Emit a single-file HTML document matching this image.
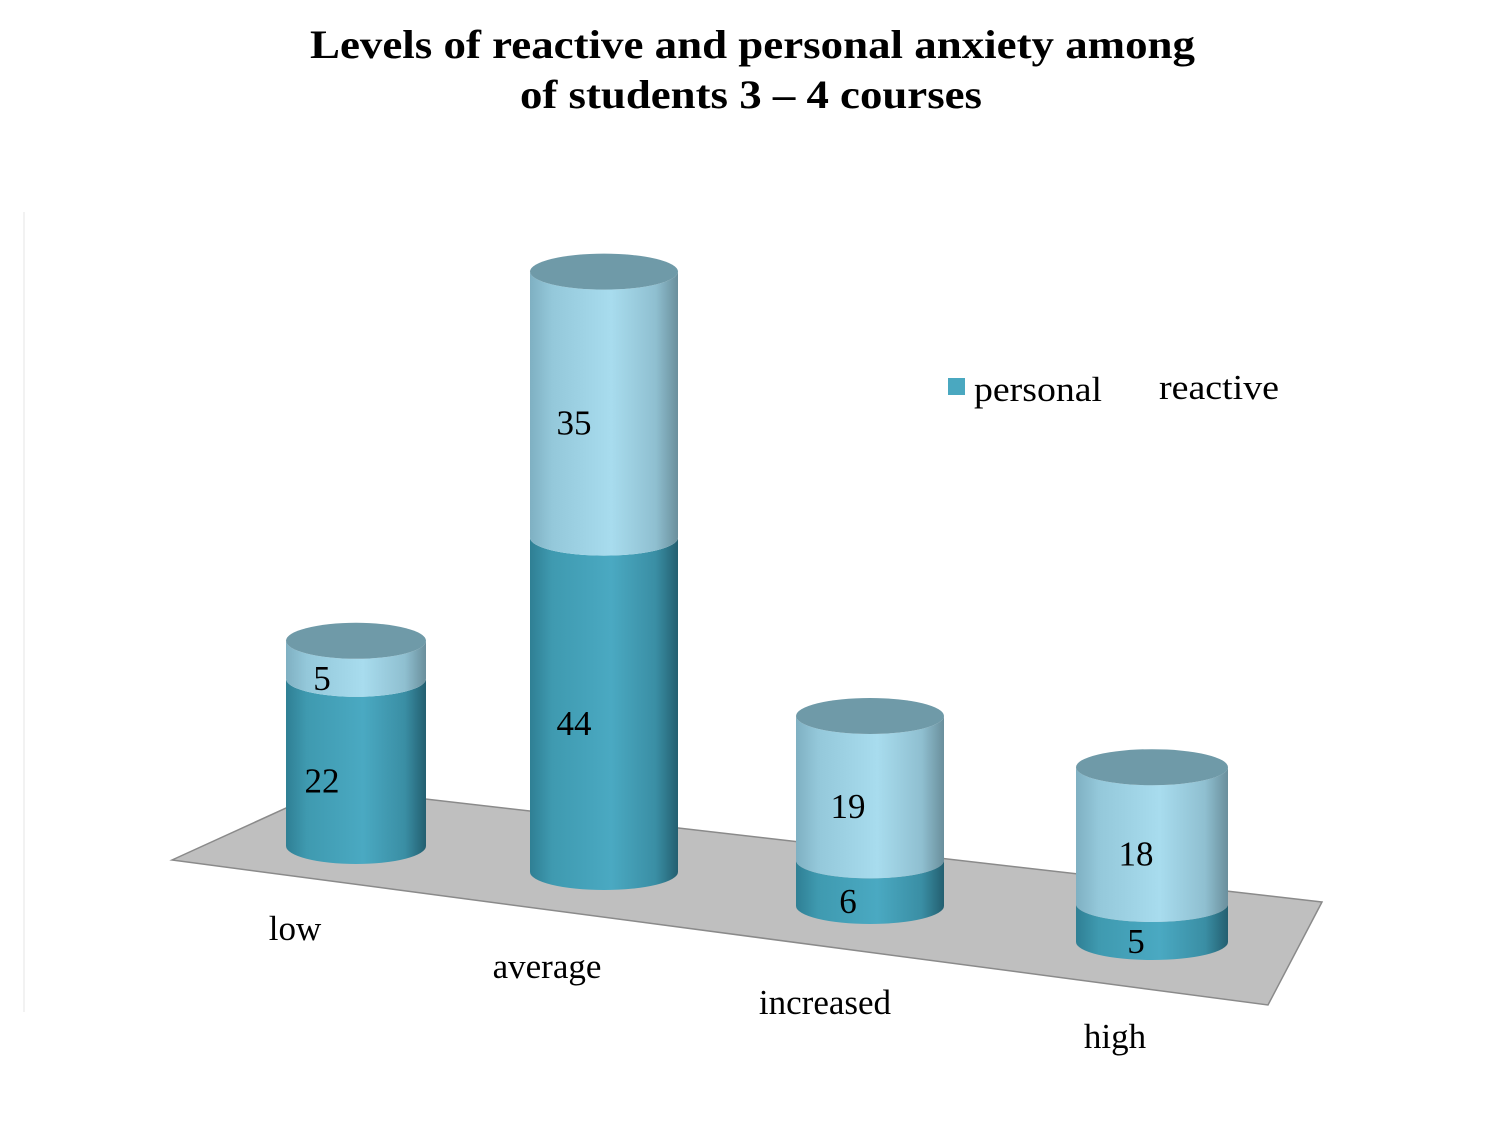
<!DOCTYPE html>
<html><head><meta charset="utf-8"><style>
body{margin:0;background:#fff;}
svg{display:block;font-family:"Liberation Serif",serif;}
</style></head><body>
<svg id="chart" width="1500" height="1125" viewBox="0 0 1500 1125">
<defs>
<linearGradient id="gP" x1="0" x2="1" y1="0" y2="0">
<stop offset="0" stop-color="#2f7f94"/><stop offset="0.15" stop-color="#3f9ab0"/><stop offset="0.55" stop-color="#4aa9c2"/><stop offset="0.85" stop-color="#3a8ea4"/><stop offset="1" stop-color="#235f70"/></linearGradient>
<linearGradient id="gR" x1="0" x2="1" y1="0" y2="0">
<stop offset="0" stop-color="#7fb0c2"/><stop offset="0.15" stop-color="#94c8da"/><stop offset="0.55" stop-color="#a8dcee"/><stop offset="0.85" stop-color="#8fbfd0"/><stop offset="1" stop-color="#6a8f9c"/></linearGradient>
</defs>
<text x="310" y="58" font-size="40" font-weight="bold" textLength="885" lengthAdjust="spacingAndGlyphs">Levels of reactive and personal anxiety among</text>
<text x="520" y="108" font-size="40" font-weight="bold" textLength="462" lengthAdjust="spacingAndGlyphs">of students 3 – 4 courses</text>
<line x1="24" y1="212" x2="24" y2="1012" stroke="#e4e4e4" stroke-width="1"/>
<polygon points="172,860 330,788 1322,902 1268,1005" fill="#bfbfbf" stroke="#8a8a8a" stroke-width="1.5"/>
<g id="bars"></g>
<g>
<rect x="948" y="378" width="17" height="17" fill="#4aa8c0"/>
<text x="974" y="401" font-size="35" textLength="128" lengthAdjust="spacingAndGlyphs">personal</text>
<text x="1159" y="399" font-size="35" textLength="120" lengthAdjust="spacingAndGlyphs">reactive</text>
</g>
</svg>
<script>
const categories=["low","average","increased","high"];
const personal=[22,44,6,5];
const reactive=[5,35,19,18];
const NS="http://www.w3.org/2000/svg";
const layout=[{cx:356,w:140,base:846,lx:295,ly:940,off:-34},{cx:604,w:148,base:872,lx:547,ly:978,off:-30},{cx:870,w:148,base:906,lx:825,ly:1014,off:-22},{cx:1152,w:152,base:942,lx:1115,ly:1048,off:-16}];
const K=7.6, RY=18;
function yScale(base,v){return base-v*K;}
const g=document.getElementById('bars');
function mk(tag,attrs){const e=document.createElementNS(NS,tag);for(const k in attrs)e.setAttribute(k,attrs[k]);g.appendChild(e);return e;}
function seg(cx,w,yb,yt,fill){
 const r=w/2;
 return mk('path',{d:`M${cx-r},${yt} L${cx-r},${yb} A${r},${RY} 0 0 0 ${cx+r},${yb} L${cx+r},${yt} A${r},${RY} 0 0 1 ${cx-r},${yt} Z`,fill:fill});
}
categories.forEach((c,i)=>{
 const L=layout[i];
 const y0=L.base, y1=yScale(L.base,personal[i]), y2=yScale(L.base,personal[i]+reactive[i]);
 const p=seg(L.cx,L.w,y0,y1,'url(#gP)');
 
 
 const r=seg(L.cx,L.w,y1,y2,'url(#gR)');
 
 
 const top=mk('ellipse',{cx:L.cx,cy:y2,rx:L.w/2,ry:RY,fill:'#6f9aa8'});
 
 
 const t1=mk('text',{x:L.cx+L.off,y:(y0+y1)/2+30,'font-size':35,'text-anchor':'middle'});
 t1.textContent=personal[i];
 
 
 const t2=mk('text',{x:L.cx+L.off,y:(y1+y2)/2+30,'font-size':35,'text-anchor':'middle'});
 t2.textContent=reactive[i];
 
 
 const lb=mk('text',{x:L.lx,y:L.ly,'font-size':35,'text-anchor':'middle'});
 lb.textContent=c;
 
 
});
</script>
</body></html>
